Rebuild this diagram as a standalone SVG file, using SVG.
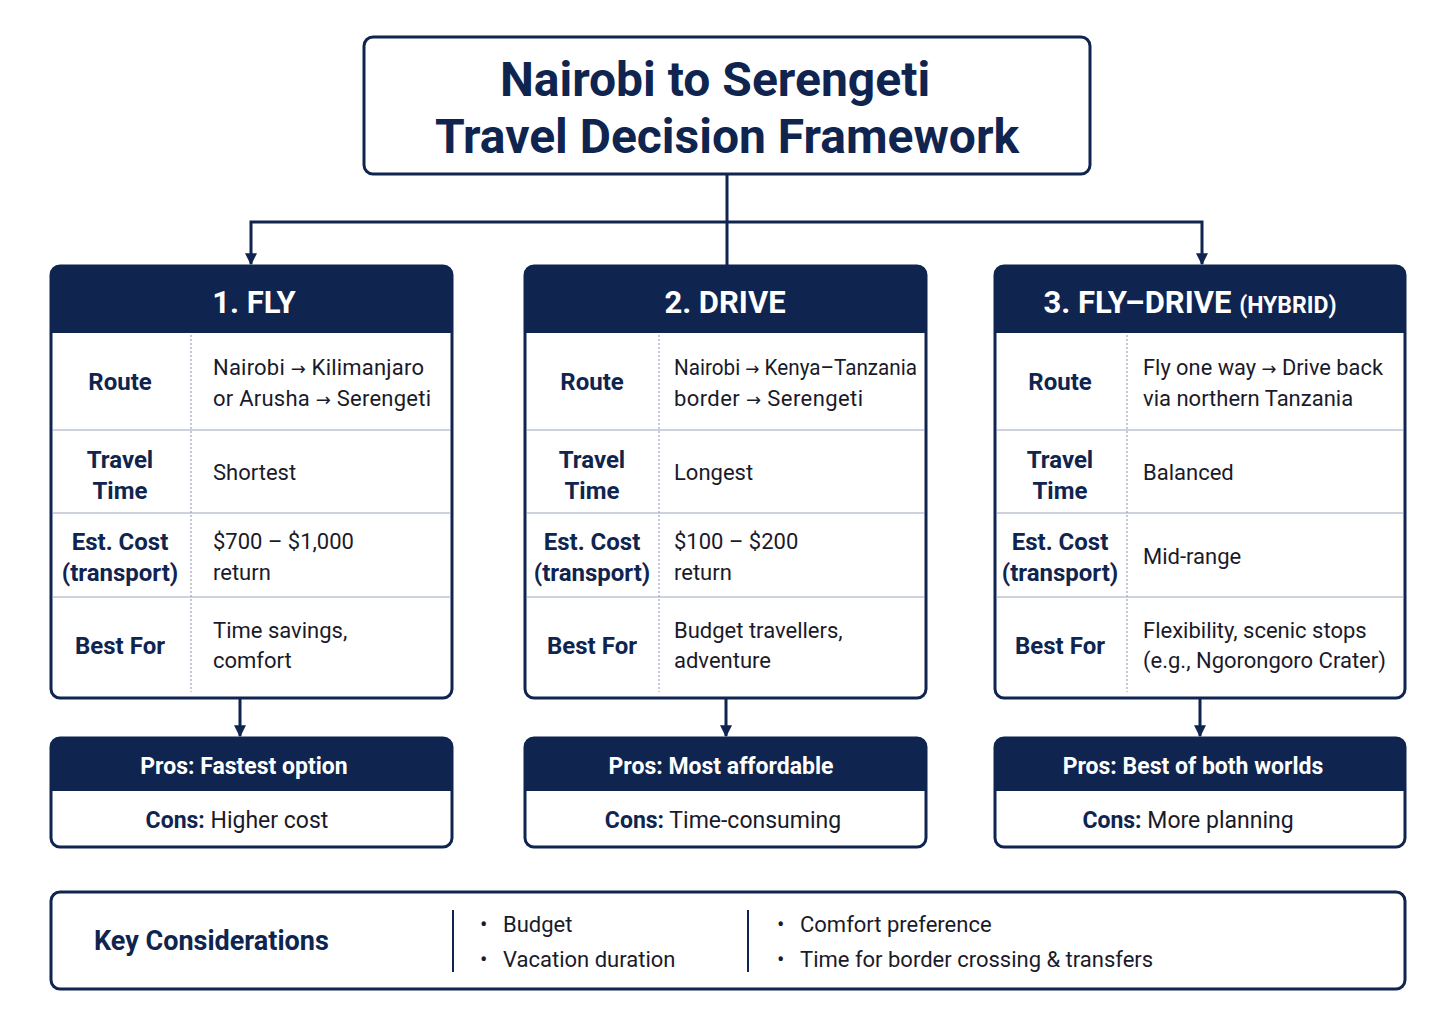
<svg xmlns="http://www.w3.org/2000/svg" width="1456" height="1023" viewBox="0 0 1456 1023">
<defs>
<marker id="ah" viewBox="0 0 10 10" refX="9" refY="5" markerWidth="4" markerHeight="4" orient="auto" markerUnits="strokeWidth"><path d="M0,0 L10,5 L0,10 z" fill="#0f2550"/></marker>
<style>
text{font-family:Roboto,"Liberation Sans",sans-serif;fill:#0f2550}
.box{fill:#fff;stroke:#0f2550;stroke-width:3}
.hd{fill:#0f2550}
.ht{fill:#fff;font-weight:bold;font-size:31px;text-anchor:middle}
.lb{font-weight:bold;font-size:24px;text-anchor:middle}
.v{font-size:22px;fill:#1a1a2a}
.ar{font-family:"DejaVu Sans",sans-serif;font-size:18px}
.rl{stroke:#9aa6bd;stroke-width:1.2}
.dl{stroke:#9aa6bd;stroke-width:1.2;stroke-dasharray:2 2}
.pt{fill:#fff;font-weight:bold;font-size:23px;text-anchor:middle}
.ct{font-size:23px;text-anchor:middle;fill:#1a1a2a}
.con{stroke:#0f2550;stroke-width:3;fill:none}
</style>
</defs>
<rect width="1456" height="1023" fill="#fff"/>
<g id="title">
<rect class="box" x="364" y="37" width="726" height="137" rx="9"/>
<text x="715" y="96" font-size="48" font-weight="bold" text-anchor="middle">Nairobi to Serengeti</text>
<text x="727" y="153" font-size="48" font-weight="bold" text-anchor="middle">Travel Decision Framework</text>
</g>
<g id="connectors">
<path class="con" d="M727,174 V266"/>
<path class="con" d="M727,222 H251 V264" marker-end="url(#ah)"/>
<path class="con" d="M727,222 H1202 V264" marker-end="url(#ah)"/>
<path class="con" d="M240,698 V736" marker-end="url(#ah)"/>
<path class="con" d="M726,698 V736" marker-end="url(#ah)"/>
<path class="con" d="M1200,698 V736" marker-end="url(#ah)"/>
</g>
<g id="fly">
<rect class="box" x="51" y="266" width="401" height="432" rx="9"/>
<path class="hd" d="M51,275 a9,9 0 0 1 9,-9 H443 a9,9 0 0 1 9,9 V333 H51 z"/>
<text class="ht" x="254" y="313">1. FLY</text>
<line class="rl" x1="53" y1="430" x2="450" y2="430"/><line class="rl" x1="53" y1="513" x2="450" y2="513"/><line class="rl" x1="53" y1="597" x2="450" y2="597"/>
<line class="dl" x1="191" y1="335" x2="191" y2="692"/>
<text class="lb" x="120" y="390">Route</text>
<text class="lb" x="120" y="468">Travel</text><text class="lb" x="120" y="499">Time</text>
<text class="lb" x="120" y="550">Est. Cost</text><text class="lb" x="120" y="581">(transport)</text>
<text class="lb" x="120" y="654">Best For</text>
<text class="v" x="213" y="375" textLength="211">Nairobi <tspan class="ar">→</tspan> Kilimanjaro</text><text class="v" x="213" y="406" textLength="218">or Arusha <tspan class="ar">→</tspan> Serengeti</text>
<text class="v" x="213" y="480">Shortest</text>
<text class="v" x="213" y="549">$700 – $1,000</text><text class="v" x="213" y="580">return</text>
<text class="v" x="213" y="638">Time savings,</text><text class="v" x="213" y="668">comfort</text>
</g>
<g id="drive">
<rect class="box" x="525" y="266" width="401" height="432" rx="9"/>
<path class="hd" d="M525,275 a9,9 0 0 1 9,-9 H917 a9,9 0 0 1 9,9 V333 H525 z"/>
<text class="ht" x="725" y="313">2. DRIVE</text>
<line class="rl" x1="527" y1="430" x2="924" y2="430"/><line class="rl" x1="527" y1="513" x2="924" y2="513"/><line class="rl" x1="527" y1="597" x2="924" y2="597"/>
<line class="dl" x1="659" y1="335" x2="659" y2="692"/>
<text class="lb" x="592" y="390">Route</text>
<text class="lb" x="592" y="468">Travel</text><text class="lb" x="592" y="499">Time</text>
<text class="lb" x="592" y="550">Est. Cost</text><text class="lb" x="592" y="581">(transport)</text>
<text class="lb" x="592" y="654">Best For</text>
<text class="v" x="674" y="375" textLength="243" lengthAdjust="spacingAndGlyphs">Nairobi <tspan class="ar">→</tspan> Kenya–Tanzania</text><text class="v" x="674" y="406" textLength="189">border <tspan class="ar">→</tspan> Serengeti</text>
<text class="v" x="674" y="480">Longest</text>
<text class="v" x="674" y="549">$100 – $200</text><text class="v" x="674" y="580">return</text>
<text class="v" x="674" y="638">Budget travellers,</text><text class="v" x="674" y="668">adventure</text>
</g>
<g id="hybrid">
<rect class="box" x="995" y="266" width="410" height="432" rx="9"/>
<path class="hd" d="M995,275 a9,9 0 0 1 9,-9 H1396 a9,9 0 0 1 9,9 V333 H995 z"/>
<text class="ht" x="1190" y="313">3. FLY–DRIVE <tspan font-size="23">(HYBRID)</tspan></text>
<line class="rl" x1="997" y1="430" x2="1403" y2="430"/><line class="rl" x1="997" y1="513" x2="1403" y2="513"/><line class="rl" x1="997" y1="597" x2="1403" y2="597"/>
<line class="dl" x1="1127" y1="335" x2="1127" y2="692"/>
<text class="lb" x="1060" y="390">Route</text>
<text class="lb" x="1060" y="468">Travel</text><text class="lb" x="1060" y="499">Time</text>
<text class="lb" x="1060" y="550">Est. Cost</text><text class="lb" x="1060" y="581">(transport)</text>
<text class="lb" x="1060" y="654">Best For</text>
<text class="v" x="1143" y="375" textLength="240" lengthAdjust="spacingAndGlyphs">Fly one way <tspan class="ar">→</tspan> Drive back</text><text class="v" x="1143" y="406">via northern Tanzania</text>
<text class="v" x="1143" y="480">Balanced</text>
<text class="v" x="1143" y="564">Mid-range</text>
<text class="v" x="1143" y="638">Flexibility, scenic stops</text><text class="v" x="1143" y="668">(e.g., Ngorongoro Crater)</text>
</g>
<g id="pros1">
<rect class="box" x="51" y="738" width="401" height="109" rx="9"/>
<path class="hd" d="M51,747 a9,9 0 0 1 9,-9 H443 a9,9 0 0 1 9,9 V791 H51 z"/>
<text class="pt" x="244" y="774">Pros: Fastest option</text>
<text class="ct" x="237" y="828"><tspan font-weight="bold" fill="#0f2550">Cons:</tspan> Higher cost</text>
</g>
<g id="pros2">
<rect class="box" x="525" y="738" width="401" height="109" rx="9"/>
<path class="hd" d="M525,747 a9,9 0 0 1 9,-9 H917 a9,9 0 0 1 9,9 V791 H525 z"/>
<text class="pt" x="721" y="774">Pros: Most affordable</text>
<text class="ct" x="723" y="828"><tspan font-weight="bold" fill="#0f2550">Cons:</tspan> Time-consuming</text>
</g>
<g id="pros3">
<rect class="box" x="995" y="738" width="410" height="109" rx="9"/>
<path class="hd" d="M995,747 a9,9 0 0 1 9,-9 H1396 a9,9 0 0 1 9,9 V791 H995 z"/>
<text class="pt" x="1193" y="774">Pros: Best of both worlds</text>
<text class="ct" x="1188" y="828"><tspan font-weight="bold" fill="#0f2550">Cons:</tspan> More planning</text>
</g>
<g id="key">
<rect class="box" x="51" y="892" width="1354" height="97" rx="9"/>
<text x="94" y="950" font-size="27" font-weight="bold">Key Considerations</text>
<line x1="453" y1="910" x2="453" y2="972" stroke="#0f2550" stroke-width="2"/>
<line x1="748" y1="910" x2="748" y2="972" stroke="#0f2550" stroke-width="2"/>
<text class="v" x="480" y="932">•<tspan x="503">Budget</tspan></text>
<text class="v" x="480" y="967">•<tspan x="503">Vacation duration</tspan></text>
<text class="v" x="777" y="932">•<tspan x="800">Comfort preference</tspan></text>
<text class="v" x="777" y="967">•<tspan x="800">Time for border crossing &amp; transfers</tspan></text>
</g>
</svg>
